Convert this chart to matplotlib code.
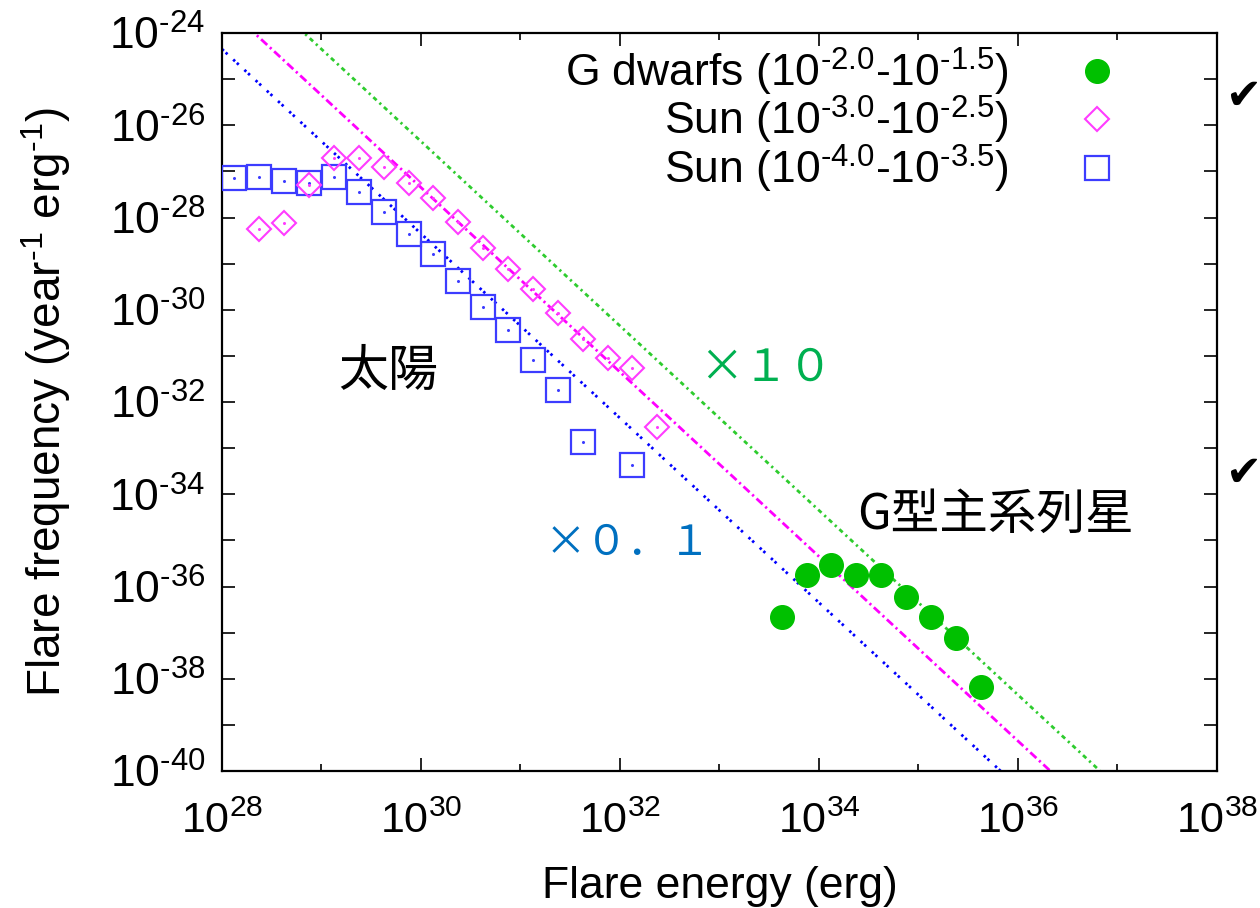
import numpy as np
import matplotlib
matplotlib.use("Agg")
import matplotlib.pyplot as plt
from matplotlib.lines import Line2D
from matplotlib.ticker import NullFormatter

plt.rcParams["font.family"] = ["Liberation Sans", "DejaVu Sans"]
plt.rcParams["mathtext.fontset"] = "custom"
plt.rcParams["mathtext.rm"] = "Liberation Sans"
plt.rcParams["mathtext.it"] = "Liberation Sans:italic"
plt.rcParams["mathtext.bf"] = "Liberation Sans:bold"

# --- flare frequency distributions (log10 values) ---
sun_low_logE = [28.125, 28.375, 28.625, 28.875, 29.125, 29.375, 29.625, 29.875,
                30.125, 30.375, 30.625, 30.875, 31.125, 31.375, 31.625, 32.125]
sun_low_logF = [-27.14, -27.12, -27.20, -27.25, -27.13, -27.45, -27.87, -28.36,
                -28.79, -29.37, -29.93, -30.44, -31.10, -31.74, -32.86, -33.37]

sun_high_logE = [28.375, 28.625, 28.875, 29.125, 29.375, 29.625, 29.875, 30.125,
                 30.375, 30.625, 30.875, 31.125, 31.375, 31.625, 31.875, 32.125,
                 32.375]
sun_high_logF = [-28.26, -28.11, -27.30, -26.70, -26.72, -26.91, -27.26, -27.57,
                 -28.09, -28.67, -29.12, -29.54, -30.06, -30.63, -31.05, -31.27,
                 -32.54]

gdwarf_logE = [33.625, 33.875, 34.125, 34.375, 34.625, 34.875, 35.125, 35.375,
               35.625]
gdwarf_logF = [-36.66, -35.75, -35.53, -35.74, -35.74, -36.22, -36.67, -37.12,
               -38.17]

# power-law guides: log10 f = norm + index * log10 E
pl_index = -2.0
pl_norm_sun = 32.65          # through the Sun (10^-3.0 - 10^-2.5) points
pl_scale_up = 1.0            # x10
pl_scale_down = -1.0         # x0.1

legend_labels = [
    r"G dwarfs (10$^{\text{-2.0}}$-10$^{\text{-1.5}}$)",
    r"Sun (10$^{\text{-3.0}}$-10$^{\text{-2.5}}$)",
    r"Sun (10$^{\text{-4.0}}$-10$^{\text{-3.5}}$)",
]
x_major_exp = [28, 30, 32, 34, 36, 38]
x_minor_exp = [29, 31, 33, 35, 37]
y_major_exp = [-40, -38, -36, -34, -32, -30, -28, -26, -24]
y_minor_exp = [-39, -37, -35, -33, -31, -29, -27, -25]

GREEN = "#00c000"
MAGENTA = "#ff3cff"
BLUE = "#3c3cff"

fig = plt.figure(figsize=(12.6, 9.08), dpi=100)
ax = fig.add_axes([222 / 1260, 137 / 908, 995 / 1260, 738 / 908])
ax.set_xscale("log")
ax.set_yscale("log")
ax.set_xlim(1e28, 1e38)
ax.set_ylim(1e-40, 1e-24)

# power-law guide lines
e_line = np.logspace(28, 38, 400)
le = np.log10(e_line)
ax.plot(e_line, 10 ** (pl_norm_sun + pl_scale_up + pl_index * le),
        color="#2ecc2e", lw=2.0, dashes=(1.6, 1.4, 0.8, 1.4), zorder=2)
ax.plot(e_line, 10 ** (pl_norm_sun + pl_index * le),
        color="#ff00ff", lw=2.0, dashes=(3.0, 1.3, 0.8, 1.3), zorder=2)
ax.plot(e_line, 10 ** (pl_norm_sun + pl_scale_down + pl_index * le),
        color="#0000ff", lw=2.0, dashes=(0.9, 0.9, 0.9, 2.8), zorder=2)

# data points
E_low = 10 ** np.array(sun_low_logE)
F_low = 10 ** np.array(sun_low_logF)
E_high = 10 ** np.array(sun_high_logE)
F_high = 10 ** np.array(sun_high_logF)
E_g = 10 ** np.array(gdwarf_logE)
F_g = 10 ** np.array(gdwarf_logF)

ax.plot(E_low, F_low, ls="none", marker="s", ms=17, mfc="none",
        mec=BLUE, mew=1.6, zorder=3)
ax.plot(E_low, F_low, ls="none", marker="o", ms=1.2, color=BLUE, zorder=3)
ax.plot(E_high, F_high, ls="none", marker="D", ms=12, mfc="none",
        mec=MAGENTA, mew=1.5, zorder=4)
ax.plot(E_high, F_high, ls="none", marker="o", ms=1.2, color=MAGENTA, zorder=4)
ax.plot(E_g, F_g, ls="none", marker="o", ms=17, color=GREEN,
        mec=GREEN, zorder=5)

# legend: labels right-aligned, symbols to the right
leg_handles = [
    Line2D([], [], ls="none", marker="o", ms=17, color=GREEN),
    Line2D([], [], ls="none", marker="D", ms=12, mfc="none", mec=MAGENTA, mew=1.5),
    Line2D([], [], ls="none", marker="s", ms=17, mfc="none", mec=BLUE, mew=1.6),
]
leg = ax.legend(leg_handles, legend_labels, loc="upper right",
                bbox_to_anchor=(0.902, 0.983), markerfirst=False, frameon=False,
                fontsize=32, handlelength=1.0, handletextpad=1.5,
                labelspacing=-0.08, borderpad=0, borderaxespad=0)

# axes styling
for s in ax.spines.values():
    s.set_linewidth(1.6)
ax.set_xticks([10.0 ** k for k in x_major_exp])
ax.set_xticks([10.0 ** k for k in x_minor_exp], minor=True)
ax.set_xticklabels([r"10$^{\text{%d}}$" % k for k in x_major_exp])
ax.xaxis.set_minor_formatter(NullFormatter())
ax.set_yticks([10.0 ** k for k in y_major_exp])
ax.set_yticks([10.0 ** k for k in y_minor_exp], minor=True)
ax.set_yticklabels([r"10$^{\text{%d}}$" % k for k in y_major_exp])
ax.yaxis.set_minor_formatter(NullFormatter())
ax.tick_params(which="both", direction="in", top=True, right=True, width=1.2)
ax.tick_params(axis="x", which="major", length=9.5, pad=22, labelsize=31)
ax.tick_params(axis="x", which="minor", length=5)
ax.tick_params(axis="y", which="both", length=9.5, pad=12, labelsize=32)

ax.set_xlabel("Flare energy (erg)", fontsize=32, labelpad=17)
ax.set_ylabel(r"Flare frequency (year$^{\text{-1}}$ erg$^{\text{-1}}$)",
              fontsize=33, labelpad=26)

# annotations
jp = ["Noto Sans CJK JP", "DejaVu Sans"]
fig.text(388 / 1260, 1 - 372 / 908, "太陽", family=jp, fontsize=36,
         ha="center", va="center", color="black")
fig.text(766 / 1260, 1 - 368 / 908, "×１０", family=jp, fontsize=32,
         ha="center", va="center", color="#00b050")
fig.text(628 / 1260, 1 - 543 / 908, "×０．１", family=jp, fontsize=30,
         ha="center", va="center", color="#0070c0")
fig.text(995 / 1260, 1 - 515 / 908, "G型主系列星", family=jp, fontsize=35,
         ha="center", va="center", color="black")
for yc in (97, 474):
    fig.text(1243 / 1260, 1 - yc / 908, "✔", family=["DejaVu Sans"],
             fontsize=31, ha="center", va="center", color="black")

fig.savefig("out.png", dpi=100)
